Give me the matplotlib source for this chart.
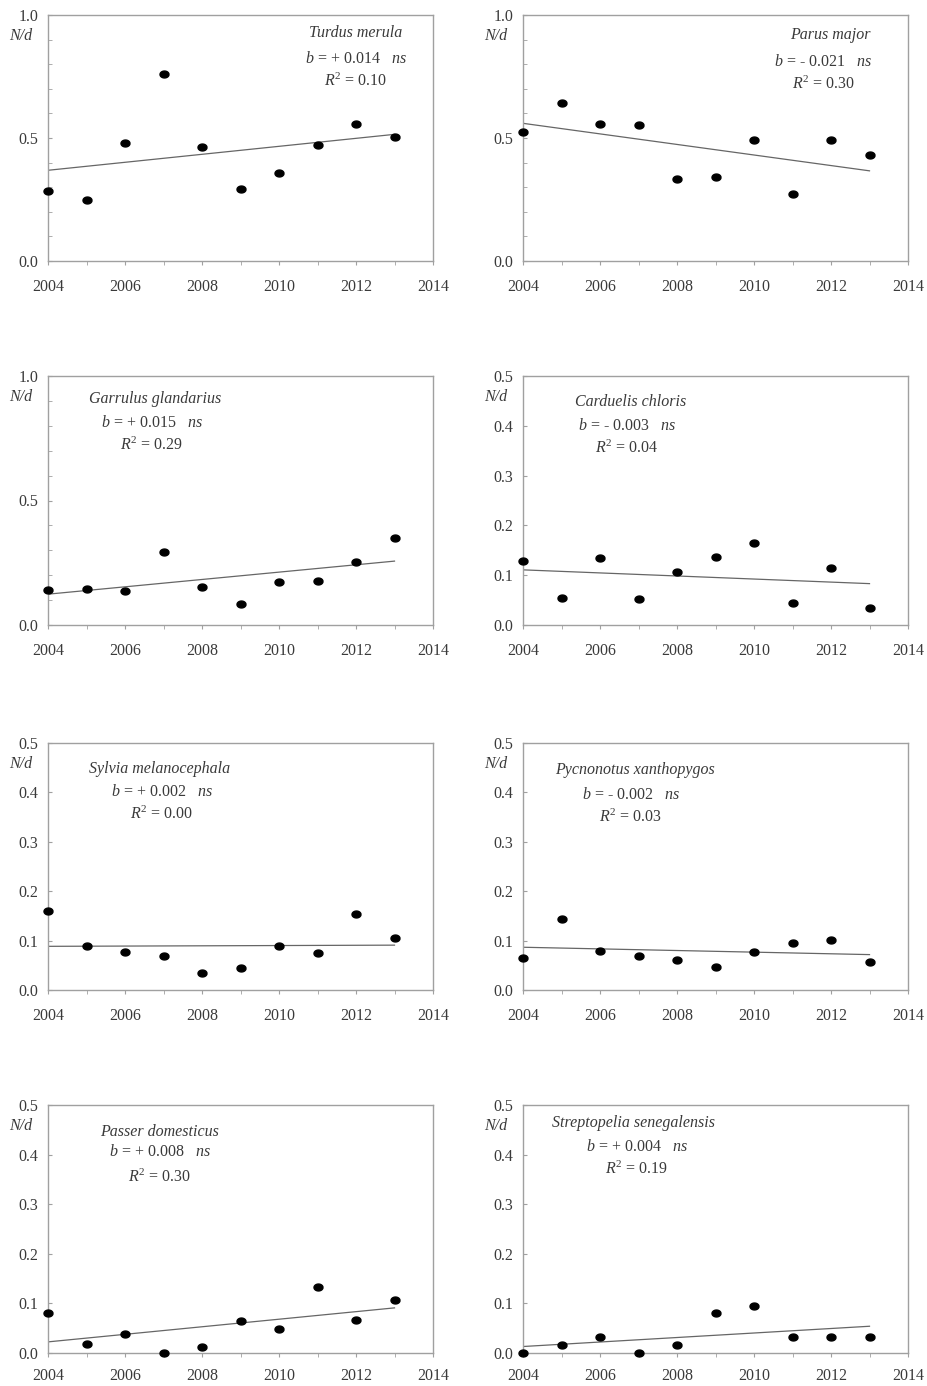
import numpy as np
import matplotlib
matplotlib.use('Agg')
import matplotlib.pyplot as plt
from matplotlib.ticker import MultipleLocator
from matplotlib.path import Path

plt.rcParams['font.family'] = 'Liberation Serif'
plt.rcParams['mathtext.fontset'] = 'custom'
plt.rcParams['mathtext.rm'] = 'Liberation Serif'
plt.rcParams['mathtext.it'] = 'Liberation Serif:italic'

# datos (N/d por año)
years = np.arange(2004, 2014)
turdus = [0.286, 0.249, 0.480, 0.760, 0.464, 0.292, 0.357, 0.470, 0.557, 0.503]
parus = [0.525, 0.644, 0.557, 0.552, 0.332, 0.340, 0.490, 0.271, 0.490, 0.430]
garrulus = [0.142, 0.143, 0.135, 0.292, 0.154, 0.083, 0.171, 0.177, 0.254, 0.351]
carduelis = [0.128, 0.054, 0.134, 0.052, 0.107, 0.137, 0.165, 0.044, 0.114, 0.034]
sylvia = [0.159, 0.089, 0.076, 0.068, 0.035, 0.045, 0.090, 0.074, 0.154, 0.106]
pycnonotus = [0.064, 0.144, 0.078, 0.069, 0.060, 0.046, 0.077, 0.096, 0.101, 0.056]
passer = [0.080, 0.018, 0.038, 0.000, 0.012, 0.064, 0.048, 0.133, 0.067, 0.107]
streptopelia = [0.000, 0.016, 0.032, 0.000, 0.016, 0.080, 0.095, 0.032, 0.032, 0.032]

series = [turdus, parus, garrulus, carduelis, sylvia, pycnonotus, passer, streptopelia]
species = ['Turdus merula', 'Parus major', 'Garrulus glandarius', 'Carduelis chloris',
           'Sylvia melanocephala', 'Pycnonotus xanthopygos', 'Passer domesticus',
           'Streptopelia senegalensis']
slopes = ['+ 0.014', '- 0.021', '+ 0.015', '- 0.003', '+ 0.002', '- 0.002', '+ 0.008', '+ 0.004']
r2 = ['0.10', '0.30', '0.29', '0.04', '0.00', '0.03', '0.30', '0.19']
ymax = [1.0, 1.0, 1.0, 0.5, 0.5, 0.5, 0.5, 0.5]

# posiciones del texto (fraccion de ejes): x nombre, y nombre, x stats, y b, y R2
ann = [(0.80, 0.927, 0.80, 0.82, 0.73),
       (0.797, 0.92, 0.78, 0.81, 0.72),
       (0.278, 0.908, 0.27, 0.81, 0.72),
       (0.28, 0.897, 0.27, 0.80, 0.71),
       (0.29, 0.895, 0.295, 0.80, 0.71),
       (0.29, 0.89, 0.28, 0.79, 0.70),
       (0.29, 0.89, 0.29, 0.81, 0.71),
       (0.286, 0.927, 0.296, 0.83, 0.74)]

W, H = 928, 1386
rows_px = [(15, 261), (376, 625), (743, 990), (1105, 1353)]
cols_px = [48, 523]
ax_w = 385

# marcador eliptico
t = np.linspace(0, 2 * np.pi, 40)
elipse = Path(np.column_stack([1.3 * np.cos(t), np.sin(t)]))

txt = '#3a3a3a'
fig = plt.figure(figsize=(W / 100, H / 100), dpi=100)

for i, y in enumerate(series):
    r, c = divmod(i, 2)
    top, bot = rows_px[r]
    ax = fig.add_axes([cols_px[c] / W, 1 - bot / H, ax_w / W, (bot - top) / H])

    ax.scatter(years, y, s=42, marker=elipse, color='black', zorder=3, clip_on=False)
    m, b0 = np.polyfit(years, y, 1)
    ax.plot(years[[0, -1]], m * years[[0, -1]] + b0, color='#666666', lw=0.9)

    ax.set_xlim(2004, 2014)
    ax.set_ylim(0, ymax[i])
    ax.xaxis.set_major_locator(MultipleLocator(2))
    ax.xaxis.set_minor_locator(MultipleLocator(1))
    if ymax[i] == 1.0:
        ax.yaxis.set_major_locator(MultipleLocator(0.5))
        ax.yaxis.set_minor_locator(MultipleLocator(0.1))
    else:
        ax.yaxis.set_major_locator(MultipleLocator(0.1))
    ax.yaxis.set_major_formatter(matplotlib.ticker.FormatStrFormatter('%.1f'))

    for s in ax.spines.values():
        s.set_color('#a0a0a0')
        s.set_linewidth(1.0)
    ax.tick_params(axis='x', which='both', direction='out', length=3, color='#a0a0a0',
                   pad=(8 if r == 3 else 10), labelsize=11.5, labelcolor=txt)
    ax.tick_params(axis='y', which='both', direction='in', length=3, color='#a0a0a0',
                   pad=7, labelsize=11.5, labelcolor=txt)

    ax.text(-0.04, 0.915, 'N/d', transform=ax.transAxes, ha='right', va='center',
            style='italic', fontsize=11.5, color=txt)

    nx, ny, sx, by, ry = ann[i]
    ax.text(nx, ny, species[i], transform=ax.transAxes, ha='center', va='center',
            style='italic', fontsize=11.5, color=txt)
    ax.text(sx, by, '$b$ = ' + slopes[i] + '   $ns$', transform=ax.transAxes,
            ha='center', va='center', fontsize=11.5, color=txt)
    ax.text(sx, ry, '$R^{\\mathrm{2}}$ = ' + r2[i], transform=ax.transAxes,
            ha='center', va='center', fontsize=11.5, color=txt)

fig.savefig('out.png', dpi=100)
